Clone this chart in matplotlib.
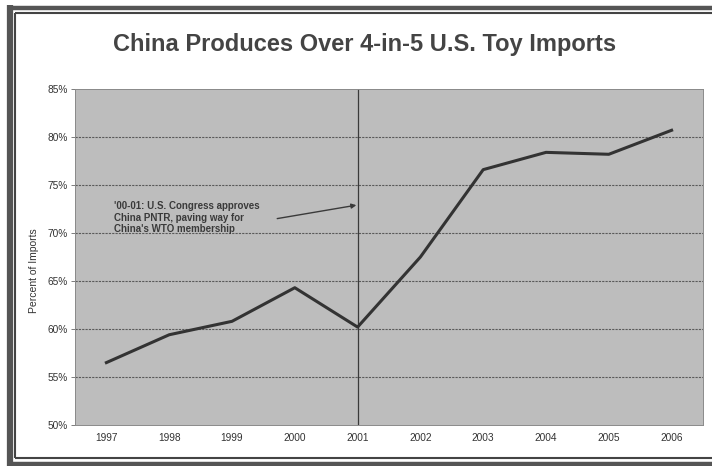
import matplotlib
matplotlib.use("Agg")
import matplotlib.pyplot as plt
from matplotlib.lines import Line2D

years = ["1997", "1998", "1999", "2000", "2001", "2002", "2003", "2004", "2005", "2006"]
share = [56.5, 59.4, 60.8, 64.3, 60.2, 67.5, 76.6, 78.4, 78.2, 80.7]
y_ticks = [50, 55, 60, 65, 70, 75, 80, 85]
y_ticklabels = ["50%", "55%", "60%", "65%", "70%", "75%", "80%", "85%"]
marker_year = "2001"
title = "China Produces Over 4-in-5 U.S. Toy Imports"
ylabel = "Percent of Imports"
note = "'00-01: U.S. Congress approves\nChina PNTR, paving way for\nChina's WTO membership"

plt.rcParams['font.family'] = ['Liberation Sans', 'DejaVu Sans']

W, H = 712, 466
fig = plt.figure(figsize=(W / 100, H / 100), dpi=100)
fig.patch.set_facecolor("white")

L, R, T, B = 75, 703, 89, 425
ax = fig.add_axes([L / W, 1 - B / H, (R - L) / W, (B - T) / H])
ax.set_facecolor("#bdbdbd")

x = list(range(len(years)))
ax.set_xlim(-0.5, len(years) - 0.5)
ax.set_ylim(50, 85)

for v in y_ticks[1:-1]:
    ax.axhline(v, color="#5a5a5a", lw=0.8, ls=(0, (2, 1)), zorder=1)
ax.axvline(years.index(marker_year), color="#3a3a3a", lw=0.9, zorder=2)

ax.plot(x, share, color="#333333", lw=2.2, solid_joinstyle="round", zorder=3)

ax.set_xticks(x)
ax.set_xticklabels(years, fontsize=7.3, color="#333333")
ax.tick_params(axis="x", length=0, pad=6)
ax.set_yticks(y_ticks)
ax.set_yticklabels(y_ticklabels, fontsize=7.3, color="#333333")
ax.tick_params(axis="y", length=3, width=0.6, color="#666666", pad=2)
for s in ax.spines.values():
    s.set_color("#8a8a8a")
    s.set_linewidth(0.7)

ax.set_ylabel(ylabel, fontsize=7.5, color="#333333", labelpad=6)
ax.yaxis.set_label_coords(-0.058, 0.46)

# annotation
ax.text(0.12, 73.3, note, fontsize=7, fontweight="bold", color="#3a3a3a",
        va="top", ha="left", linespacing=1.15, zorder=4)
ax.annotate("", xy=(3.98, 72.9), xytext=(2.72, 71.5),
            arrowprops=dict(arrowstyle="-|>", color="#3a3a3a", lw=1.0,
                            mutation_scale=7, shrinkA=0, shrinkB=0), zorder=4)

fig.text(365 / W, 1 - 45 / H, title, fontsize=17, fontweight="bold",
         color="#444444", ha="center", va="center")

# page frame
def fl(x0, y0, x1, y1, lw, c):
    fig.add_artist(Line2D([x0 / W, x1 / W], [1 - y0 / H, 1 - y1 / H],
                          lw=lw, color=c, transform=fig.transFigure,
                          solid_capstyle="butt"))

fl(10, 5, 10, 466, 4.5, "#555555")
fl(7, 7.5, W, 7.5, 3.2, "#555555")
fl(7, 463.5, W, 463.5, 3.2, "#555555")
fl(15, 13, 15, 458, 1.5, "#444444")
fl(15, 13, W, 13, 1.5, "#444444")
fl(15, 458, W, 458, 1.5, "#444444")

fig.savefig("out.png", dpi=100)
